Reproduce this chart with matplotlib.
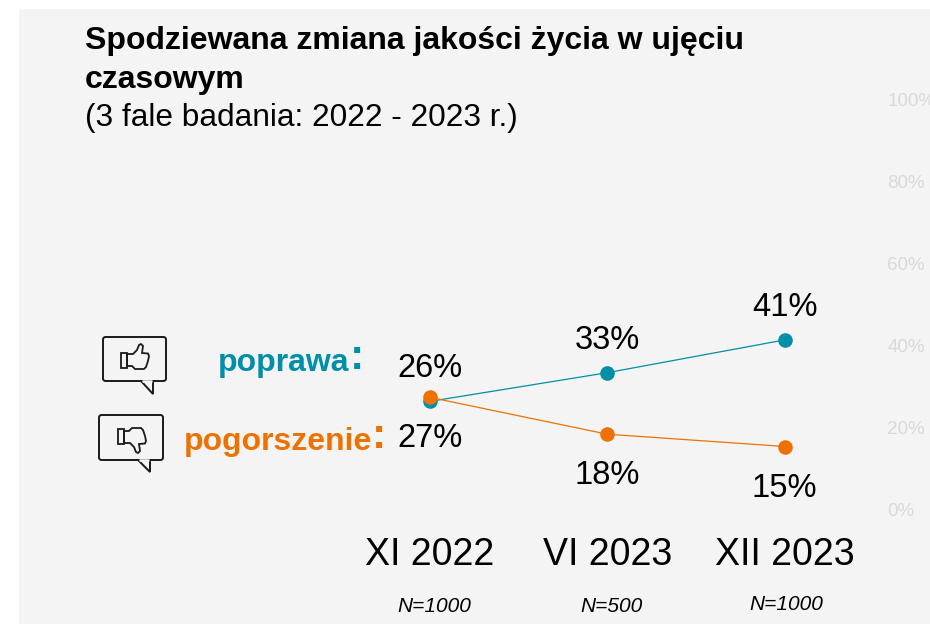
import matplotlib.pyplot as plt
from matplotlib.patches import FancyBboxPatch, Polygon, Rectangle
from matplotlib.transforms import ScaledTranslation

plt.rcParams['font.family'] = ['Liberation Sans', 'DejaVu Sans']

waves = ['XI 2022', 'VI 2023', 'XII 2023']
sample_sizes = ['N=1000', 'N=500', 'N=1000']
improve = [26, 33, 41]
worse = [27, 18, 15]
y_ticks = [0, 20, 40, 60, 80, 100]

W, H = 930, 624
BLUE = '#008fa8'
ORANGE = '#ee7203'
BG = '#f4f4f4'
INK = '#1a1a1a'
fig = plt.figure(figsize=(W / 100, H / 100), dpi=100, facecolor='white')

# overlay in pixel coords for the panel, titles and icons
over = fig.add_axes([0, 0, 1, 1], zorder=0)
over.set_xlim(0, W)
over.set_ylim(H, 0)
over.axis('off')
over.add_patch(Rectangle((19, 9), W - 19, H - 9, fc=BG, ec='none'))

# chart axes: 0% at y=508, 100% at y=98, categories 177.5 px apart
ax = fig.add_axes([341 / W, (H - 508) / H, 532.5 / W, 410 / H], zorder=1)
ax.patch.set_alpha(0)
ax.set_xlim(-0.5, 2.5)
ax.set_ylim(0, 100)
for s in ax.spines.values():
    s.set_visible(False)

x = range(len(waves))
ax.plot(x, improve, color=BLUE, lw=0.9, marker='o', ms=10.5, mew=0, clip_on=False)
ax.plot(x, worse, color=ORANGE, lw=0.9, marker='o', ms=10.5, mew=0, clip_on=False)

for i, v in enumerate(improve):
    ax.annotate(f'{v}%', (i, v), xytext=(0, 23.5), textcoords='offset points',
                ha='center', va='center', fontsize=23.5, color='black')
for i, v in enumerate(worse):
    ax.annotate(f'{v}%', (i, v), xytext=(0, -30), textcoords='offset points',
                ha='center', va='center', fontsize=23.5, color='black')

ax.set_xticks(list(x))
ax.set_xticklabels(waves, fontsize=27, color='black')
ax.tick_params(axis='x', length=0, pad=21)
ax.yaxis.tick_right()
ax.set_yticks(y_ticks)
ax.set_yticklabels([f'{t}%' for t in y_ticks], fontsize=13.5, color='#d9d9d9')
ax.tick_params(axis='y', length=0, pad=10)
# tick labels sit a pixel lower than the points they belong to
nudge = ScaledTranslation(0, -1.2 / 72, fig.dpi_scale_trans)
for lab in ax.get_yticklabels():
    lab.set_transform(lab.get_transform() + nudge)
    lab.set_clip_on(False)

# sample sizes under the axis
n_y = [607, 607, 605]
n_x = [434, 611.5, 786.5]
for px, py, n in zip(n_x, n_y, sample_sizes):
    over.text(px, py, n, ha='center', va='center', fontsize=15, style='italic', color='black')

# title block
over.text(85, 41, 'Spodziewana zmiana jakości życia w ujęciu', fontsize=23, fontweight='bold',
          va='center', ha='left', color='black')
over.text(85, 80, 'czasowym', fontsize=23, fontweight='bold', va='center', ha='left', color='black')
over.text(85, 118, '(3 fale badania: 2022 - 2023 r.)', fontsize=22.8, va='center', ha='left', color='black')

# series labels, the colons are set larger in the original
over.text(218, 363, 'poprawa', fontsize=23, fontweight='bold', color=BLUE, va='center', ha='left')
over.text(350, 358, ':', fontsize=31, fontweight='bold', color=BLUE, va='center', ha='left')
over.text(184, 442, 'pogorszenie', fontsize=23, fontweight='bold', color=ORANGE, va='center', ha='left')
over.text(372, 437, ':', fontsize=31, fontweight='bold', color=ORANGE, va='center', ha='left')


def bubble(x0, y0, x1, y1, tx0, tx1, ty):
    over.add_patch(FancyBboxPatch((x0 + 2, y0 + 2), x1 - x0 - 4, y1 - y0 - 4,
                                  boxstyle='round,pad=2,rounding_size=2.5',
                                  fc=BG, ec=INK, lw=1.4))
    over.add_patch(Polygon([(tx0, y1), (tx1, ty), (tx1, y1)], closed=False,
                           fc=BG, ec=INK, lw=1.4, joinstyle='miter'))
    over.plot([tx0 + 1, tx1 - 1], [y1, y1], color=BG, lw=1.8, solid_capstyle='butt')


bubble(103, 337, 166, 381, 141, 153, 394)
bubble(99, 415, 163, 460, 138, 150, 472)

hand = [(127, 354), (133, 354), (137, 350), (139, 345), (141, 344), (143, 346), (142, 353),
        (148, 353.5), (149, 356), (148, 361), (146, 367), (144, 369), (135, 369), (132, 366), (127, 366)]
over.add_patch(Rectangle((121, 353), 6, 15, fc='none', ec=INK, lw=1.3))
over.add_patch(Polygon(hand, closed=True, fc='none', ec=INK, lw=1.3))
over.add_patch(Rectangle((118, 429), 6, 15, fc='none', ec=INK, lw=1.3))
over.add_patch(Polygon([(a - 3, 797 - b) for a, b in hand], closed=True, fc='none', ec=INK, lw=1.3))

fig.savefig('out.png', dpi=100)
